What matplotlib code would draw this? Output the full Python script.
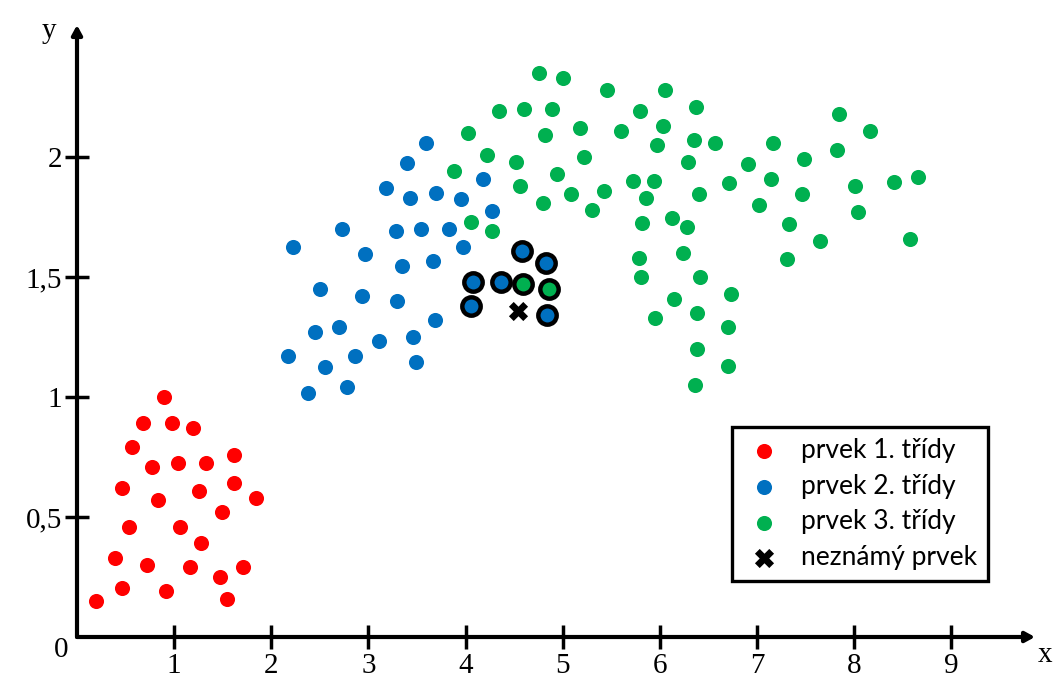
import matplotlib.pyplot as plt

# class 1 (red)
red_x = [0.894, 0.677, 0.979, 1.192, 0.571, 1.611, 0.773, 1.038, 1.326, 0.461,
         1.251, 1.615, 1.841, 0.835, 1.491, 0.533, 1.055, 1.278, 0.392, 0.719,
         1.168, 1.467, 1.707, 0.461, 0.911, 1.546, 0.200]
red_y = [1.00, 0.89, 0.89, 0.87, 0.79, 0.76, 0.71, 0.725, 0.725, 0.62,
         0.61, 0.64, 0.58, 0.57, 0.52, 0.46, 0.46, 0.39, 0.33, 0.30,
         0.29, 0.25, 0.29, 0.205, 0.19, 0.16, 0.15]

# class 2 (blue)
blue_x = [3.595, 3.40, 3.183, 3.423, 3.695, 3.949, 4.182, 4.272, 2.727, 3.279,
          3.544, 3.832, 2.226, 2.967, 3.969, 3.345, 3.660, 2.500, 2.936, 3.297,
          3.688, 2.445, 2.696, 3.111, 3.454, 2.167, 2.861, 2.552, 3.485, 2.775,
          2.373]
blue_y = [2.06, 1.975, 1.87, 1.83, 1.85, 1.825, 1.91, 1.775, 1.70, 1.69,
          1.70, 1.70, 1.625, 1.595, 1.625, 1.545, 1.565, 1.45, 1.42, 1.40,
          1.32, 1.27, 1.29, 1.235, 1.25, 1.17, 1.17, 1.125, 1.145, 1.04,
          1.015]

# class 3 (green)
green_x = [4.759, 5.006, 5.452, 6.053, 4.340, 4.601, 4.893, 5.799, 6.376, 4.028,
           4.817, 5.178, 5.600, 6.032, 5.971, 6.355, 6.565, 4.223, 4.522, 5.219,
           6.290, 3.880, 4.941, 4.556, 5.082, 5.428, 5.724, 5.943, 6.712, 6.400,
           4.800, 5.305, 5.861, 4.055, 4.275, 5.813, 6.126, 6.280, 5.789, 6.232,
           5.806, 6.407, 6.729, 6.149, 5.954, 6.383, 6.702, 6.383, 6.702, 6.358,
           7.841, 8.165, 7.161, 7.818, 6.908, 7.481, 7.138, 7.460, 8.010, 8.405,
           8.655, 7.018, 8.041, 7.331, 7.650, 8.573, 7.306]
green_y = [2.35, 2.33, 2.28, 2.28, 2.19, 2.20, 2.20, 2.19, 2.21, 2.10,
           2.09, 2.12, 2.11, 2.13, 2.05, 2.07, 2.06, 2.01, 1.98, 2.00,
           1.98, 1.94, 1.93, 1.88, 1.845, 1.86, 1.90, 1.90, 1.89, 1.845,
           1.81, 1.78, 1.83, 1.73, 1.69, 1.725, 1.745, 1.71, 1.58, 1.60,
           1.50, 1.50, 1.43, 1.41, 1.33, 1.35, 1.29, 1.20, 1.13, 1.05,
           2.18, 2.11, 2.06, 2.03, 1.97, 1.99, 1.91, 1.845, 1.88, 1.895,
           1.915, 1.80, 1.77, 1.72, 1.65, 1.66, 1.575]

# nearest neighbours of the unknown point (circled)
nn_blue_x = [4.584, 4.831, 4.079, 4.361, 4.055, 4.838]
nn_blue_y = [1.61, 1.56, 1.48, 1.48, 1.38, 1.34]
nn_green_x = [4.591, 4.859]
nn_green_y = [1.47, 1.45]

unknown_x = [4.54]
unknown_y = [1.36]

x_ticks = [1, 2, 3, 4, 5, 6, 7, 8, 9]
y_ticks = [0.5, 1.0, 1.5, 2.0]
y_tick_labels = ["0,5", "1", "1,5", "2"]

RED = "#FF0000"
BLUE = "#0070C0"
GREEN = "#00B050"

fig = plt.figure(figsize=(10.57, 6.84), dpi=100)
ax = fig.add_axes([77 / 1057, 47 / 684, 958 / 1057, 612 / 684])
ax.set_xlim(0, 9.86)
ax.set_ylim(0, 2.55)

dot = 118
ax.scatter(red_x, red_y, s=dot, color=RED, linewidths=0, label="prvek 1. třídy", zorder=3)
ax.scatter(blue_x, blue_y, s=dot, color=BLUE, linewidths=0, label="prvek 2. třídy", zorder=3)
ax.scatter(green_x, green_y, s=dot, color=GREEN, linewidths=0, label="prvek 3. třídy", zorder=3)
ax.scatter(nn_blue_x, nn_blue_y, s=175, color=BLUE, edgecolors="black", linewidths=3.2, zorder=4)
ax.scatter(nn_green_x, nn_green_y, s=175, color=GREEN, edgecolors="black", linewidths=3.2, zorder=4)
ax.scatter(unknown_x, unknown_y, s=190, marker="X", color="black", linewidths=0,
           label="neznámý prvek", zorder=5)

# axes drawn as arrows
for s in ax.spines.values():
    s.set_visible(False)
arrow = dict(arrowstyle="-|>,head_length=0.55,head_width=0.3", lw=3, color="black",
             shrinkA=0, shrinkB=0)
ax.annotate("", xy=(1, 0), xytext=(0, 0), xycoords="axes fraction",
            arrowprops=arrow, annotation_clip=False)
ax.annotate("", xy=(0, 1), xytext=(0, 0), xycoords="axes fraction",
            arrowprops=arrow, annotation_clip=False)

serif = "Liberation Serif"
ax.set_xticks(x_ticks)
ax.set_xticklabels([str(t) for t in x_ticks], fontfamily=serif, fontsize=21)
ax.set_yticks(y_ticks)
ax.set_yticklabels(y_tick_labels, fontfamily=serif, fontsize=21)
ax.tick_params(axis="x", direction="inout", length=17, width=2.5, pad=3)
ax.tick_params(axis="y", direction="inout", length=17, width=2.5, pad=2)

ax.text(-0.16, -0.055, "0", fontfamily=serif, fontsize=21, ha="center", va="center",
        clip_on=False)
ax.text(1.011, -0.03, "x", transform=ax.transAxes, fontfamily=serif, fontsize=21,
        ha="center", va="center", clip_on=False)
ax.text(-0.029, 0.99, "y", transform=ax.transAxes, fontfamily=serif, fontsize=21,
        ha="center", va="center", clip_on=False)

leg = ax.legend(loc="center", bbox_to_anchor=(0.817, 0.217), frameon=True, fancybox=False,
                framealpha=1, prop={"family": "Lato", "size": 19}, labelspacing=0.4,
                handletextpad=0.6, borderpad=0.42, handlelength=1.6, borderaxespad=0)
leg.get_frame().set_edgecolor("black")
leg.get_frame().set_linewidth(2.4)

fig.savefig("out.png", dpi=100)
